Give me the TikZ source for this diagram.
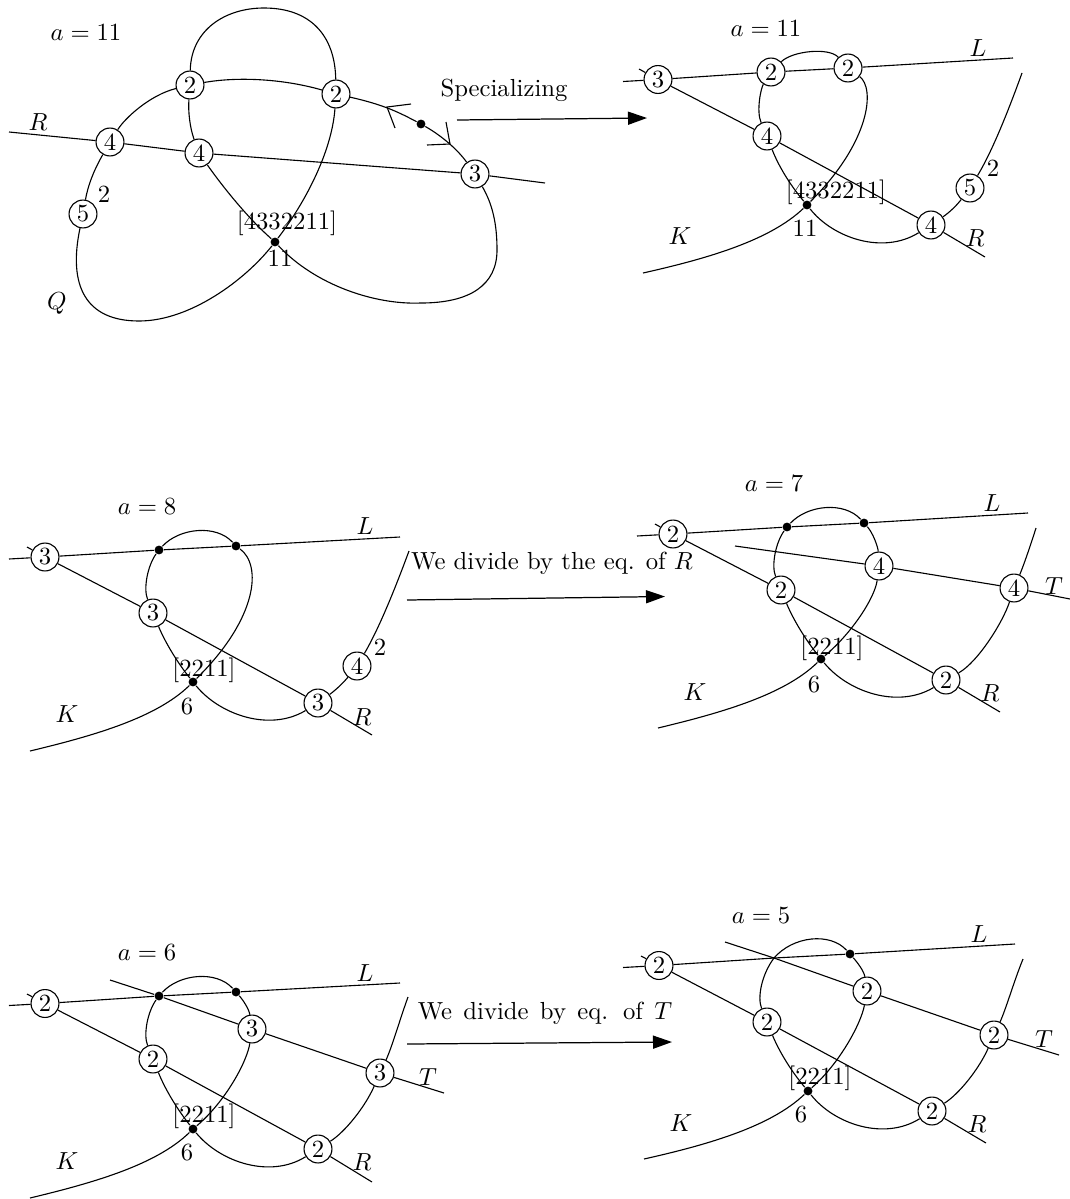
\documentclass[tikz,border=0pt]{standalone}
\usepackage{amsmath,amssymb}
\usetikzlibrary{arrows.meta}

\begin{document}
\begin{tikzpicture}[
  x=0.405pt,
  y=-0.405pt,
  line width=.45pt,
  flow/.style={-{Triangle[length=7.7pt,width=5.3pt]},line width=.5pt},
  mult/.style={circle,draw,minimum size=11.3pt,inner sep=0pt},
  crossing/.style={circle,fill=black,minimum size=3.6pt,inner sep=0pt},
  tag/.style={inner sep=0pt}
]

\useasboundingbox (0,0) rectangle (1070,1199);

\node[mult] (qa) at (190,85) {2};
\node[mult] (qb) at (336,94) {2};
\node[mult] (qc) at (110,142) {4};
\node[mult] (qd) at (199,153) {4};
\node[mult] (qe) at (475,174) {3};
\node[mult] (qf) at (83,214) {5};
\node[crossing] (qp) at (275,242) {};
\node[crossing] (qm) at (421,124) {};
\coordinate (qrs) at (9,132);
\coordinate (qre) at (545,183);
\coordinate (qu1) at (411,104);
\coordinate (qu2) at (387,107);
\coordinate (qu3) at (395,128);
\coordinate (qv1) at (446,122);
\coordinate (qv2) at (450,144);
\coordinate (qv3) at (427,145);

\node[tag] (qtag) at (86,33) {$a=11$};
\node[tag] (qR) at (38,122) {$R$};
\node[tag] (qQ) at (57,303) {$Q$};
\node[tag] (qtwo) at (104,194) {2};
\node[tag] (qsing) at (287,223) {[4332211]};
\node[tag] (qmult) at (280,258) {11};

\draw (qa) .. controls (191,30) and (225,8) .. (264,8)
  .. controls (310,8) and (335,35) .. (qb);
\draw (qa) .. controls (235,77) and (280,78) .. (qb);
\draw (qb) .. controls (385,105) and (400,113) .. (qm);
\draw (qm) .. controls (442,136) and (458,150) .. (qe);
\draw (qc) .. controls (125,118) and (150,95) .. (qa);
\draw (qa) .. controls (188,112) and (190,128) .. (qd);
\draw (qc) .. controls (94,170) and (88,185) .. (qf);
\draw (qf) .. controls (68,285) and (85,321) .. (139,321)
  .. controls (190,321) and (245,280) .. (qp);
\draw (qd) .. controls (225,190) and (250,220) .. (qp);
\draw (qb) .. controls (332,150) and (307,200) .. (qp);
\draw (qp) .. controls (315,285) and (375,305) .. (421,303)
  .. controls (470,303) and (497,285) .. (497,250)
  .. controls (497,225) and (493,205) .. (qe);
\draw (qrs) -- (qc);
\draw (qc) -- (qd);
\draw (qd) -- (qe);
\draw (qe) -- (qre);
\draw (qu1) -- (qu2) -- (qu3);
\draw (qv1) -- (qv2) -- (qv3);

\node[tag] (spectext) at (504,90) {Specializing};
\coordinate (specs) at (457,120);
\coordinate (spece) at (647,118);
\draw[flow] (specs) -- (spece);

\begin{scope}[shift={(613,-477)}]
\node[mult] (ba) at (45,556.5) {3};
\node[mult] (bb) at (158,549) {2};
\node[mult] (bc) at (235,545) {2};
\node[mult] (bd) at (154,613) {4};
\node[mult] (be) at (318,702) {4};
\node[mult] (bf) at (357,665) {5};
\node[crossing] (bp) at (194,682) {};
\coordinate (bls) at (10,558.5);
\coordinate (ble) at (400,535);
\coordinate (brs) at (26,546);
\coordinate (bre) at (372,734);
\coordinate (bks) at (30,750);
\coordinate (bke) at (409,550);

\node[tag] (btag) at (153,506) {$a=11$};
\node[tag] (bL) at (365,525) {$L$};
\node[tag] (bK) at (67,713) {$K$};
\node[tag] (bR) at (362,715) {$R$};
\node[tag] (btwo) at (380,645) {2};
\node[tag] (bsing) at (223,669) {[4332211]};
\node[tag] (bmult) at (192,705) {11};

\draw (bls) -- (ba);
\draw (ba) -- (bb);
\draw (bb) -- (bc);
\draw (bc) -- (ble);
\draw (brs) -- (ba);
\draw (ba) -- (bd);
\draw (bd) -- (be);
\draw (be) -- (bre);
\draw (bb) .. controls (179,528) and (216,524) .. (bc);
\draw (bb) .. controls (148,565) and (143,588) .. (bd);
\draw (bc) .. controls (262,565) and (258,618) .. (bp);
\draw (bd) .. controls (165,642) and (177,662) .. (bp);
\draw (bp) .. controls (220,715) and (270,732) .. (be);
\draw (bks) .. controls (97,735) and (157,717) .. (bp);
\draw (be) .. controls (337,689) and (344,682) .. (bf);
\draw (bf) .. controls (377,632) and (392,597) .. (bke);
\end{scope}

\node[crossing] (ca) at (159,550) {};
\node[crossing] (cb) at (236,546) {};
\node[mult] (cc) at (45,557) {3};
\node[mult] (cd) at (153,613) {3};
\node[mult] (ce) at (318,703) {3};
\node[mult] (cf) at (357,666) {4};
\node[crossing] (cp) at (193,682) {};
\coordinate (cls) at (9,559);
\coordinate (cle) at (400,537);
\coordinate (crs) at (27,547);
\coordinate (cre) at (372,735);
\coordinate (cks) at (30,751);
\coordinate (cke) at (409,551);

\node[tag] (ctag) at (147,507) {$a=8$};
\node[tag] (cL) at (365,526) {$L$};
\node[tag] (cK) at (67,714) {$K$};
\node[tag] (cR) at (362,717) {$R$};
\node[tag] (ctwo) at (380,647) {2};
\node[tag] (csing) at (204,670) {[2211]};
\node[tag] (cmult) at (187,707) {6};

\draw (cls) -- (cc);
\draw (cc) -- (ca);
\draw (ca) -- (cb);
\draw (cb) -- (cle);
\draw (crs) -- (cc);
\draw (cc) -- (cd);
\draw (cd) -- (ce);
\draw (ce) -- (cre);
\draw (ca) .. controls (179,528) and (216,524) .. (cb);
\draw (ca) .. controls (148,565) and (143,588) .. (cd);
\draw (cb) .. controls (262,565) and (258,618) .. (cp);
\draw (cd) .. controls (165,642) and (177,662) .. (cp);
\draw (cp) .. controls (220,715) and (270,732) .. (ce);
\draw (cks) .. controls (97,735) and (157,717) .. (cp);
\draw (ce) .. controls (337,689) and (344,682) .. (cf);
\draw (cf) .. controls (377,632) and (392,597) .. (cke);

\node[tag] (rtext) at (552,563) {We divide by the eq. of $R$};
\coordinate (rs) at (407,600);
\coordinate (re) at (665,596.5);
\draw[flow] (rs) -- (re);

\begin{scope}[shift={(628,-23)}]
\node[crossing] (da) at (159,550) {};
\node[crossing] (db) at (236,546) {};
\node[mult] (dc) at (45,557) {2};
\node[mult] (dd) at (153,613) {2};
\node[mult] (de) at (318,703) {2};
\node[mult] (dm) at (251,589) {4};
\node[mult] (dn) at (386,611) {4};
\node[crossing] (dp) at (193,682) {};
\coordinate (dls) at (9,559);
\coordinate (dle) at (400,536);
\coordinate (drs) at (27,547);
\coordinate (dre) at (372,735);
\coordinate (dks) at (30,751);
\coordinate (dke) at (408,551);
\coordinate (dts) at (107,569);
\coordinate (dte) at (442,622);

\node[tag] (dtag) at (146,507) {$a=7$};
\node[tag] (dL) at (364,526) {$L$};
\node[tag] (dK) at (67,715) {$K$};
\node[tag] (dR) at (362,716) {$R$};
\node[tag] (dT) at (426,609) {$T$};
\node[tag] (dsing) at (204,671) {[2211]};
\node[tag] (dmult) at (186,708) {6};

\draw (dls) -- (dc);
\draw (dc) -- (da);
\draw (da) -- (db);
\draw (db) -- (dle);
\draw (drs) -- (dc);
\draw (dc) -- (dd);
\draw (dd) -- (de);
\draw (de) -- (dre);
\draw (dts) -- (dm);
\draw (dm) -- (dn);
\draw (dn) -- (dte);
\draw (da) .. controls (179,528) and (216,524) .. (db);
\draw (da) .. controls (148,565) and (143,588) .. (dd);
\draw (db) .. controls (245,556) and (250,570) .. (dm);
\draw (dm) .. controls (247,620) and (225,655) .. (dp);
\draw (dd) .. controls (165,642) and (177,662) .. (dp);
\draw (dp) .. controls (220,715) and (270,732) .. (de);
\draw (dks) .. controls (97,735) and (157,717) .. (dp);
\draw (de) .. controls (350,685) and (375,645) .. (dn);
\draw (dn) .. controls (395,590) and (402,570) .. (dke);
\end{scope}

\begin{scope}[shift={(0,447)}]
\node[crossing] (ea) at (159,549) {};
\node[crossing] (eb) at (236,545) {};
\node[mult] (ec) at (45,556.5) {2};
\node[mult] (ed) at (153,612) {2};
\node[mult] (ee) at (318,702) {2};
\node[mult] (em) at (252,582) {3};
\node[mult] (en) at (380,626) {3};
\node[crossing] (ep) at (193,682) {};
\coordinate (els) at (9,558.5);
\coordinate (ele) at (400,536);
\coordinate (ers) at (27,547);
\coordinate (ere) at (372,735);
\coordinate (eks) at (30,751);
\coordinate (eke) at (408,550);
\coordinate (ets) at (110,533);
\coordinate (ete) at (444,646);

\node[tag] (etag) at (147,506) {$a=6$};
\node[tag] (eL) at (365,526) {$L$};
\node[tag] (eK) at (67,714) {$K$};
\node[tag] (eR) at (362,715) {$R$};
\node[tag] (eT) at (428,630) {$T$};
\node[tag] (esing) at (204,669) {[2211]};
\node[tag] (emult) at (187,706) {6};

\draw (els) -- (ec);
\draw (ec) -- (ea);
\draw (ea) -- (eb);
\draw (eb) -- (ele);
\draw (ers) -- (ec);
\draw (ec) -- (ed);
\draw (ed) -- (ee);
\draw (ee) -- (ere);
\draw (ets) -- (ea);
\draw (ea) -- (em);
\draw (em) -- (en);
\draw (en) -- (ete);
\draw (ea) .. controls (179,527) and (216,523) .. (eb);
\draw (ea) .. controls (148,564) and (143,587) .. (ed);
\draw (eb) .. controls (243,553) and (249,562) .. (em);
\draw (em) .. controls (247,615) and (225,655) .. (ep);
\draw (ed) .. controls (165,642) and (177,662) .. (ep);
\draw (ep) .. controls (220,715) and (270,732) .. (ee);
\draw (eks) .. controls (97,735) and (157,717) .. (ep);
\draw (ee) .. controls (345,685) and (365,660) .. (en);
\draw (en) .. controls (392,600) and (400,572) .. (eke);
\end{scope}

\node[tag] (ttext) at (545,1013) {\spaceskip=4.6pt\xspaceskip=6pt We divide by eq. of $T$};
\coordinate (ts) at (407,1044);
\coordinate (te) at (672,1042);
\draw[flow] (ts) -- (te);

\begin{scope}[shift={(614,409)}]
\coordinate (fa) at (160,549);
\node[crossing] (fb) at (236,545) {};
\node[mult] (fc) at (45,556.5) {2};
\node[mult] (fd) at (153,613) {2};
\node[mult] (fe) at (318,702) {2};
\node[mult] (fm) at (253,582) {2};
\node[mult] (fn) at (380,626) {2};
\node[crossing] (fp) at (194,682) {};
\coordinate (fls) at (9,558.5);
\coordinate (fle) at (401,535);
\coordinate (frs) at (27,547);
\coordinate (fre) at (372,734);
\coordinate (fks) at (30,750);
\coordinate (fke) at (409,550);
\coordinate (fts) at (111,533);
\coordinate (fte) at (445,646);

\node[tag] (ftag) at (147,507) {$a=5$};
\node[tag] (fL) at (365,525) {$L$};
\node[tag] (fK) at (67,714) {$K$};
\node[tag] (fR) at (363,715) {$R$};
\node[tag] (fT) at (430,630) {$T$};
\node[tag] (fsing) at (206,669) {[2211]};
\node[tag] (fmult) at (187,706) {6};

\draw (fls) -- (fc);
\draw (fc) -- (fa);
\draw (fa) -- (fb);
\draw (fb) -- (fle);
\draw (frs) -- (fc);
\draw (fc) -- (fd);
\draw (fd) -- (fe);
\draw (fe) -- (fre);
\draw (fts) -- (fa);
\draw (fa) -- (fm);
\draw (fm) -- (fn);
\draw (fn) -- (fte);
\draw (fa) .. controls (179,527) and (216,523) .. (fb);
\draw (fa) .. controls (148,565) and (143,588) .. (fd);
\draw (fb) .. controls (243,553) and (250,562) .. (fm);
\draw (fm) .. controls (247,615) and (225,655) .. (fp);
\draw (fd) .. controls (165,642) and (177,662) .. (fp);
\draw (fp) .. controls (220,715) and (270,732) .. (fe);
\draw (fks) .. controls (97,735) and (157,717) .. (fp);
\draw (fe) .. controls (345,685) and (365,660) .. (fn);
\draw (fn) .. controls (392,600) and (400,572) .. (fke);
\end{scope}

\end{tikzpicture}
\end{document}
